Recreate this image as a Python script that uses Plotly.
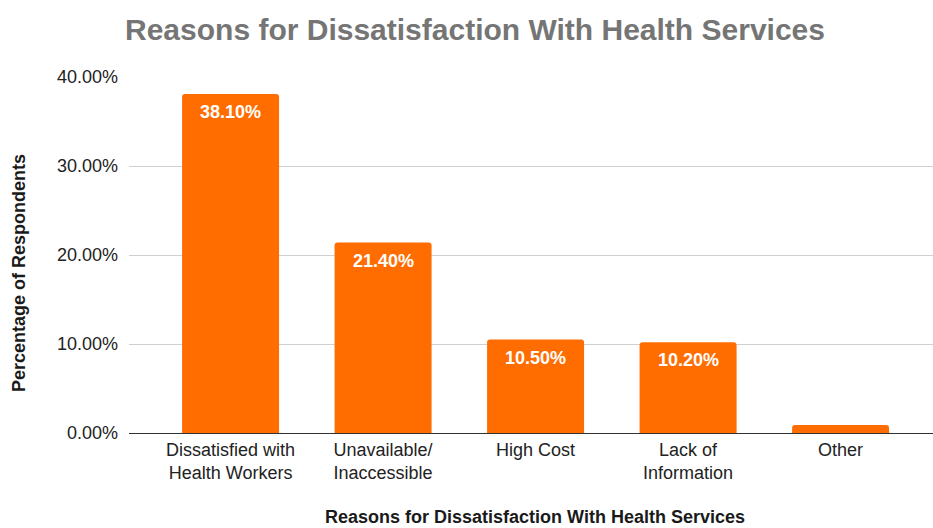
import plotly.graph_objects as go

categories = ["Dissatisfied with<br>Health Workers", "Unavailable/<br>Inaccessible", "High Cost", "Lack of<br>Information", "Other"]
values = [38.1, 21.4, 10.5, 10.2, 0.9]
labels = ["38.10%", "21.40%", "10.50%", "10.20%", ""]
y_ticks = [0, 10, 20, 30, 40]
y_tick_text = ["0.00%", "10.00%", "20.00%", "30.00%", "40.00%"]

FONT = "Liberation Sans, Arial, sans-serif"
W, H = 933, 528
L, R, T, B = 129, 0, 77, 95

fig = go.Figure()
fig.add_trace(go.Bar(
    x=list(range(len(categories))),
    y=values,
    width=0.636,
    marker=dict(color="#FF6D01", line=dict(width=0), cornerradius=3),
    hoverinfo="skip",
))

for i, (v, lab) in enumerate(zip(values, labels)):
    if lab:
        fig.add_annotation(x=i, y=v, xref="x", yref="y", text="<b>" + lab + "</b>",
                           showarrow=False, yanchor="top", yshift=-6,
                           font=dict(family=FONT, size=18, color="#FFFFFF"))

fig.add_annotation(text="<b>Percentage of Respondents</b>", xref="paper", yref="paper",
                   x=-(L - 19) / (W - L - R), y=(H - B - 273) / (H - T - B),
                   textangle=-90, showarrow=False, xanchor="center", yanchor="middle",
                   font=dict(family=FONT, size=18, color="#1a1a1a"))
fig.add_annotation(text="<b>Reasons for Dissatisfaction With Health Services</b>", xref="paper", yref="paper",
                   x=(535 - L) / (W - L - R), y=-(517 - (H - B)) / (H - T - B),
                   showarrow=False, xanchor="center", yanchor="middle",
                   font=dict(family=FONT, size=18, color="#1a1a1a"))

fig.update_layout(
    width=W, height=H,
    margin=dict(l=L, r=R, t=T, b=B, pad=0),
    paper_bgcolor="white", plot_bgcolor="white",
    showlegend=False,
    title=dict(text="<b>Reasons for Dissatisfaction With Health Services</b>",
               x=475 / W, xanchor="center", y=1 - 29 / H, yanchor="middle",
               xref="container", yref="container",
               font=dict(family=FONT, size=30, color="#757575")),
    xaxis=dict(
        tickmode="array", tickvals=list(range(len(categories))), ticktext=categories,
        range=[-0.666, 4.606], showgrid=False, zeroline=False,
        showline=True, linecolor="#333333", linewidth=1,
        ticks="", tickfont=dict(family=FONT, size=18, color="#222222"),
        fixedrange=True,
    ),
    yaxis=dict(
        range=[0, 40], tickmode="array", tickvals=y_ticks, ticktext=y_tick_text,
        showgrid=True, gridcolor="#d0d0d0", gridwidth=1,
        zeroline=False, showline=False, ticks="", ticklabelstandoff=10,
        tickfont=dict(family=FONT, size=18, color="#222222"),
        fixedrange=True,
    ),
)

fig.write_html("out.html")
